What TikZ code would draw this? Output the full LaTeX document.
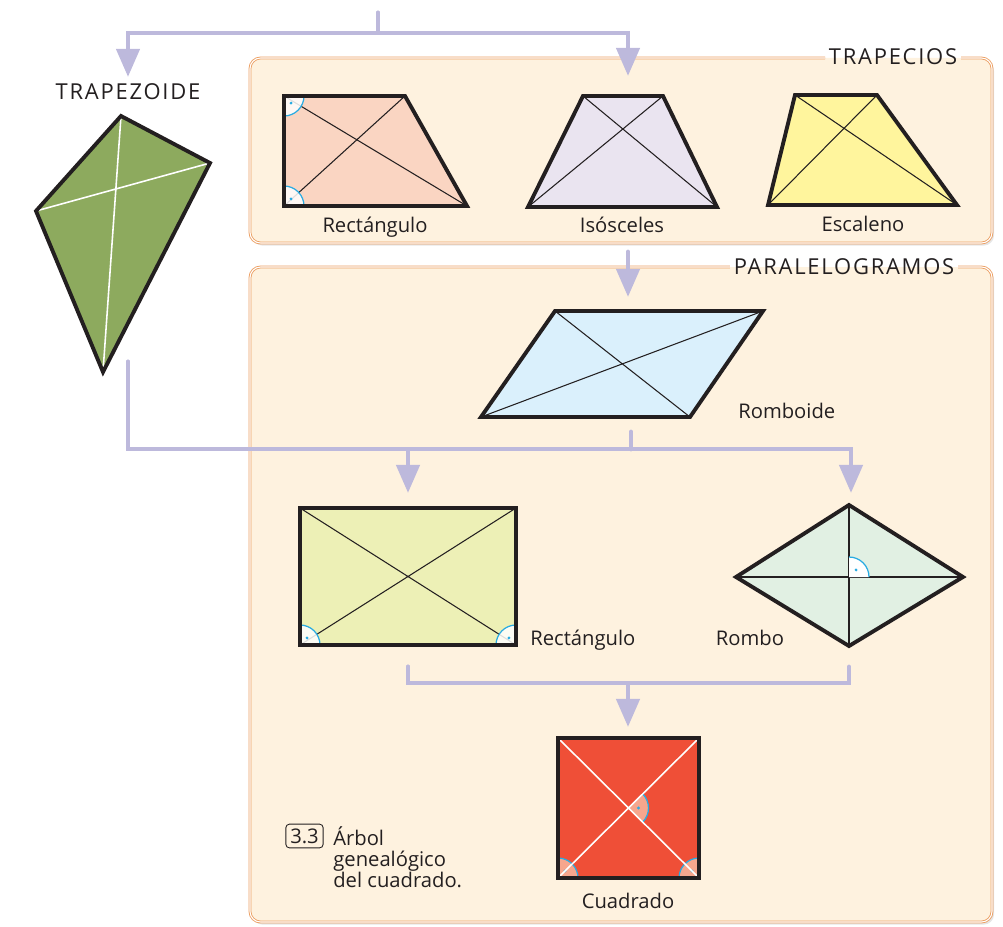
\documentclass[tikz,border=0pt]{standalone}
\usepackage{fontspec}
\setmainfont{Open Sans}
\newfontfamily\capsfont[LetterSpace=8]{Open Sans}
\usepackage{tikz}
\usetikzlibrary{arrows.meta, shadows}
\definecolor{linklilac}{RGB}{189,185,220}
\definecolor{panelcream}{RGB}{254,242,223}
\definecolor{panelorange}{RGB}{236,160,100}
\definecolor{inkdark}{RGB}{35,31,32}
\definecolor{angcyan}{RGB}{41,171,226}
\definecolor{trapsalmon}{RGB}{250,213,194}
\definecolor{traplilac}{RGB}{234,228,240}
\definecolor{trapyellow}{RGB}{255,245,157}
\definecolor{kitegreen}{RGB}{141,170,94}
\definecolor{romblue}{RGB}{218,240,252}
\definecolor{rectlime}{RGB}{237,240,182}
\definecolor{rombomint}{RGB}{225,240,227}
\definecolor{sqred}{RGB}{239,79,55}
\definecolor{sqpink}{RGB}{246,166,141}

% right-angle mark: corner, start angle, end angle, fill
\newcommand{\angmark}[4]{%
  \fill[#4] (#1) -- ++(#2:0.4cm) arc[start angle=#2, end angle=#3, radius=0.4cm] -- cycle;
  \draw[angcyan, line width=0.7pt] (#1) ++(#2:0.4cm) arc[start angle=#2, end angle=#3, radius=0.4cm];
  \fill[angcyan] (#1) ++({(#2+#3)/2}:0.2cm) circle (0.9pt);
}

\begin{document}
\begin{tikzpicture}[
    x=0.02cm, y=0.02cm,
    link/.style={draw=linklilac, line width=2.8pt, line cap=round, -{Triangle[width=13pt, length=16pt]}},
    bar/.style={draw=linklilac, line width=2.8pt, line cap=round},
    panelfill/.style={fill=panelcream, rounded corners=6pt, drop shadow={opacity=0.2, shadow xshift=1.2pt, shadow yshift=-1.5pt}},
    panelframe/.style={draw=panelorange, double=white, double distance=0.6pt, line width=0.5pt, rounded corners=6pt},
    ttl/.style={font=\capsfont\fontsize{12.5}{14}\selectfont, text=inkdark, inner sep=2pt},
    lbl/.style={font=\fontsize{11.5}{13}\selectfont, text=inkdark},
    poly/.style={draw=inkdark, line width=2.2pt, line join=miter},
    diag/.style={draw=inkdark, line width=0.6pt},
    wdiag/.style={draw=white, line width=0.9pt}
]
    \useasboundingbox (0,0) rectangle (1003,-926);

    % Panels
    \fill[panelfill] (250,-58) rectangle (992,-243);
    \fill[panelfill] (250,-267) rectangle (992,-922);
    \node[ttl, anchor=base] (trapttl) at (893,-65) {TRAPECIOS};
    \node[ttl, anchor=base] (parttl) at (844,-274) {PARALELOGRAMOS};
    \draw[panelframe] (trapttl.east |- 0,-58) -- (992,-58) -- (992,-243) -- (250,-243) -- (250,-58) -- (trapttl.west |- 0,-58);
    \draw[panelframe] (parttl.east |- 0,-267) -- (992,-267) -- (992,-922) -- (250,-922) -- (250,-267) -- (parttl.west |- 0,-267);

    % Trapezoide
    \node[ttl, anchor=base] (trapezoide) at (128,-99) {TRAPEZOIDE};
    \coordinate (kt) at (121,-116);
    \coordinate (kr) at (210,-163);
    \coordinate (kb) at (103,-372);
    \coordinate (kl) at (36,-211);
    \fill[kitegreen] (kt) -- (kr) -- (kb) -- (kl) -- cycle;
    \draw[wdiag] (kt) -- (kb) (kl) -- (kr);
    \draw[poly] (kt) -- (kr) -- (kb) -- (kl) -- cycle;

    % Trapecio rectangulo
    \coordinate (ra) at (284,-96);
    \coordinate (rb) at (405,-96);
    \coordinate (rc) at (467,-206);
    \coordinate (rd) at (284,-206);
    \fill[trapsalmon] (ra) -- (rb) -- (rc) -- (rd) -- cycle;
    \draw[diag] (ra) -- (rc) (rb) -- (rd);
    \angmark{ra}{-90}{0}{white, opacity=0.85}
    \angmark{rd}{0}{90}{white, opacity=0.85}
    \draw[poly] (ra) -- (rb) -- (rc) -- (rd) -- cycle;
    \node[lbl, anchor=base] (lrect) at (375,-232) {Rectángulo};

    % Trapecio isosceles
    \coordinate (ia) at (583,-96);
    \coordinate (ib) at (663,-96);
    \coordinate (ic) at (717,-207);
    \coordinate (id) at (528,-207);
    \fill[traplilac] (ia) -- (ib) -- (ic) -- (id) -- cycle;
    \draw[diag] (ia) -- (ic) (ib) -- (id);
    \draw[poly] (ia) -- (ib) -- (ic) -- (id) -- cycle;
    \node[lbl, anchor=base] (liso) at (622,-232) {Isósceles};

    % Trapecio escaleno
    \coordinate (ea) at (795,-95);
    \coordinate (eb) at (877,-95);
    \coordinate (ec) at (957,-205);
    \coordinate (ed) at (768,-205);
    \fill[trapyellow] (ea) -- (eb) -- (ec) -- (ed) -- cycle;
    \draw[diag] (ea) -- (ec) (eb) -- (ed);
    \draw[poly] (ea) -- (eb) -- (ec) -- (ed) -- cycle;
    \node[lbl, anchor=base] (lesc) at (863,-231) {Escaleno};

    % Romboide
    \coordinate (pa) at (555,-311);
    \coordinate (pb) at (763,-311);
    \coordinate (pc) at (690,-417);
    \coordinate (pd) at (481,-417);
    \fill[romblue] (pa) -- (pb) -- (pc) -- (pd) -- cycle;
    \draw[diag] (pa) -- (pc) (pb) -- (pd);
    \draw[poly] (pa) -- (pb) -- (pc) -- (pd) -- cycle;
    \node[lbl, anchor=base west, inner sep=0pt] (lromboide) at (738,-418) {Romboide};

    % Rectangulo
    \coordinate (qa) at (300,-508);
    \coordinate (qb) at (516,-508);
    \coordinate (qc) at (516,-645);
    \coordinate (qd) at (300,-645);
    \fill[rectlime] (qa) -- (qb) -- (qc) -- (qd) -- cycle;
    \draw[diag] (qa) -- (qc) (qb) -- (qd);
    \angmark{qd}{0}{90}{white, opacity=0.85}
    \angmark{qc}{90}{180}{white, opacity=0.85}
    \draw[poly] (qa) -- (qb) -- (qc) -- (qd) -- cycle;
    \node[lbl, anchor=base west, inner sep=0pt] (lrectangulo) at (530,-645) {Rectángulo};

    % Rombo
    \coordinate (ot) at (849,-505);
    \coordinate (or) at (963,-577);
    \coordinate (ob) at (849,-646);
    \coordinate (ol) at (736,-577);
    \coordinate (oc) at (849,-577);
    \fill[rombomint] (ot) -- (or) -- (ob) -- (ol) -- cycle;
    \draw[diag] (ot) -- (ob) (ol) -- (or);
    \angmark{oc}{0}{90}{white}
    \draw[poly] (ot) -- (or) -- (ob) -- (ol) -- cycle;
    \node[lbl, anchor=base] (lrombo) at (750,-645) {Rombo};

    % Cuadrado
    \coordinate (sa) at (558,-738);
    \coordinate (sb) at (699,-738);
    \coordinate (sc) at (699,-878);
    \coordinate (sd) at (558,-878);
    \coordinate (sm) at (628.5,-808);
    \fill[sqred] (sa) -- (sb) -- (sc) -- (sd) -- cycle;
    \angmark{sm}{-45}{45}{sqpink}
    \angmark{sd}{0}{90}{sqpink}
    \angmark{sc}{90}{180}{sqpink}
    \draw[wdiag] (sa) -- (sc) (sb) -- (sd);
    \draw[poly] (sa) -- (sb) -- (sc) -- (sd) -- cycle;
    \node[lbl, anchor=base] (lcuadrado) at (628,-908) {Cuadrado};

    % Caption
    \node[lbl, draw=inkdark, line width=0.5pt, rounded corners=2pt, inner sep=2.5pt] (capnum) at (304.5,-836) {3.3};
    \node[lbl, font=\fontsize{11.5}{12}\selectfont, anchor=north west, align=left, inner sep=0pt] (captxt) at (333,-826) {Árbol\\genealógico\\del cuadrado.};

    % Connectors
    \coordinate (root) at (378,-13);
    \coordinate (kiteIn) at (128,-77);
    \coordinate (trapIn) at (628,-76);
    \draw[link] (root) -- ++(0,-20) -| (kiteIn);
    \draw[link] (root) -- ++(0,-20) -| (trapIn);

    \coordinate (trapOut) at (628,-252);
    \coordinate (romIn) at (628,-297);
    \draw[link] (trapOut) -- (romIn);

    \coordinate (kiteOut) at (128,-362);
    \coordinate (romOut) at (631,-432);
    \coordinate (rectIn) at (408,-493);
    \coordinate (romboIn) at (851,-493);
    \draw[link] (kiteOut) -- ++(0,-87) -| (rectIn);
    \draw[link] (kiteOut) -- ++(0,-87) -| (romboIn);
    \draw[bar] (romOut) -- ++(0,-17);

    \coordinate (rectOut) at (408,-667);
    \coordinate (romboOut) at (849,-667);
    \coordinate (sqIn) at (628,-727);
    \draw[bar] (rectOut) -- ++(0,-16) -| (romboOut);
    \draw[link] (rectOut) -- ++(0,-16) -| (sqIn);
\end{tikzpicture}
\end{document}
